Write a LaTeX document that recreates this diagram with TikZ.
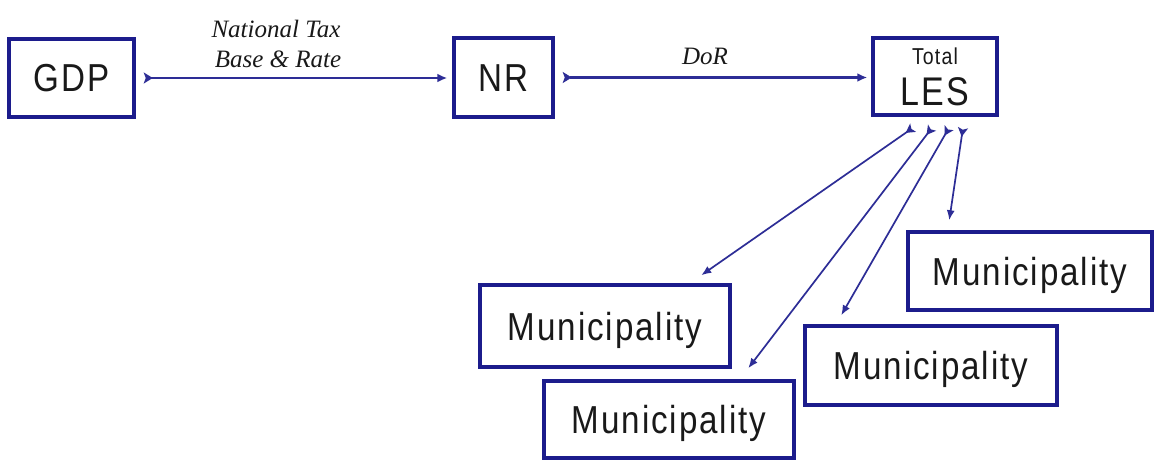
\documentclass[tikz,border=0pt]{standalone}
\usepackage{fontspec}
\usetikzlibrary{arrows.meta,calc}
\newfontfamily\boxfont{Liberation Sans}[FakeStretch=0.85,LetterSpace=5]
\newfontfamily\labfont{Liberation Serif}
\definecolor{navy}{RGB}{28,28,140}
\definecolor{arrowblue}{RGB}{45,45,150}
\definecolor{ink}{RGB}{25,25,25}
\begin{document}
\begin{tikzpicture}[x=1pt,y=-1pt,
  box/.style={draw=navy, line width=3.5pt, fill=white, inner sep=0pt, text=ink, text depth=0pt},
  big/.style={font=\boxfont\fontsize{39}{39}\selectfont, text height=28pt},
  txt/.style={inner sep=0pt, text=ink, anchor=base},
  conn/.style={draw=arrowblue, line width=2.4pt,
    arrows={Stealth[reversed,length=9pt,width=11pt,inset=2pt]-Latex[length=10pt,width=9pt]}},
  sconn/.style={draw=arrowblue, line width=1.7pt,
    arrows={Stealth[reversed,length=9pt,width=10pt,inset=2pt]-Latex[length=10pt,width=8pt]}},
  lab/.style={font=\labfont\itshape\fontsize{25}{25}\selectfont, text=ink, inner sep=0pt, anchor=base}]
\fill[white] (0,0) rectangle (1154,460);
\useasboundingbox (0,0) rectangle (1154,460);

% boxes
\node[box,big,minimum width=125pt,minimum height=78pt] (GDP) at (71.5,78) {GDP};
\node[box,big,minimum width=99pt,minimum height=79pt] (NR) at (503.5,77.5) {NR};
\node[box,minimum width=124pt,minimum height=77pt] (LES) at (935,76.5) {};
\node[txt,font=\boxfont\fontsize{23}{23}\selectfont] (total) at (935,65) {Total};
\node[txt,font=\boxfont\fontsize{40}{40}\selectfont] (lestext) at (935,105) {LES};

\node[box,big,minimum width=250pt,minimum height=82pt] (MA) at (605,326) {Municipality};
\node[box,big,minimum width=250pt,minimum height=77pt] (MB) at (669,419.5) {Municipality};
\node[box,big,minimum width=252pt,minimum height=79pt] (MC) at (931,365.5) {Municipality};
\node[box,big,minimum width=244pt,minimum height=78pt] (MD) at (1030,271) {Municipality};

% labels
\node[lab] (lab1a) at (276,38) {National Tax};
\node[lab] (lab1b) at (278,67) {Base \& Rate};
\node[lab] (lab2) at (705,65) {DoR};

% main connectors
\draw[conn, shorten <=8pt, shorten >=5pt] (GDP.east) -- (GDP.east -| NR.west);
\draw[conn, shorten <=8pt, shorten >=4pt] (NR.east) -- (NR.east -| LES.west);

% distribution connectors
\coordinate (s1) at ($(LES.south)+(-22,11)$);
\coordinate (s2) at ($(LES.south)+(-3,11)$);
\coordinate (s3) at ($(LES.south)+(14,11)$);
\coordinate (s4) at ($(LES.south)+(28,11)$);
\coordinate (t1) at ($(MA.north west)+(223,-8)$);
\coordinate (t2) at ($(MB.north west)+(206,-11)$);
\coordinate (t3) at ($(MC.north west)+(38,-9)$);
\coordinate (t4) at ($(MD.north west)+(43,-10)$);
\draw[sconn] (s1) -- (t1);
\draw[sconn] (s2) -- (t2);
\draw[sconn] (s3) -- (t3);
\draw[sconn] (s4) -- (t4);
\end{tikzpicture}
\end{document}
